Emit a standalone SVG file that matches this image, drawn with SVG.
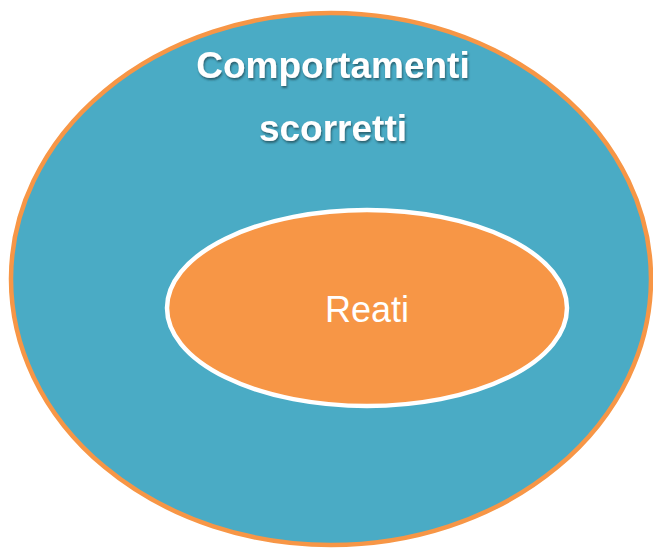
<svg xmlns="http://www.w3.org/2000/svg" width="653" height="549" viewBox="0 0 653 549">
<defs>
<filter id="sh" x="-10%" y="-30%" width="120%" height="160%">
<feDropShadow dx="1" dy="2" stdDeviation="1.2" flood-color="#1a3f4a" flood-opacity="0.7"/>
</filter>
<style>
.lbl{font-family:"Liberation Sans",Arial,sans-serif;fill:#ffffff;text-anchor:middle}
</style>
</defs>
<rect width="653" height="549" fill="#ffffff"/>
<g id="outer">
<ellipse cx="331" cy="279" rx="320" ry="266" fill="#4AABC5" stroke="#F79646" stroke-width="4.5"/>
<g filter="url(#sh)">
<text class="lbl" x="333" y="78" font-size="37" font-weight="bold">Comportamenti</text>
<text class="lbl" x="333" y="141" font-size="37" font-weight="bold">scorretti</text>
</g>
</g>
<g id="inner">
<ellipse cx="367" cy="308" rx="200" ry="98" fill="#F79646" stroke="#ffffff" stroke-width="4.5"/>
<text class="lbl" x="367" y="322" font-size="36">Reati</text>
</g>
<g id="connectors"/>
</svg>
